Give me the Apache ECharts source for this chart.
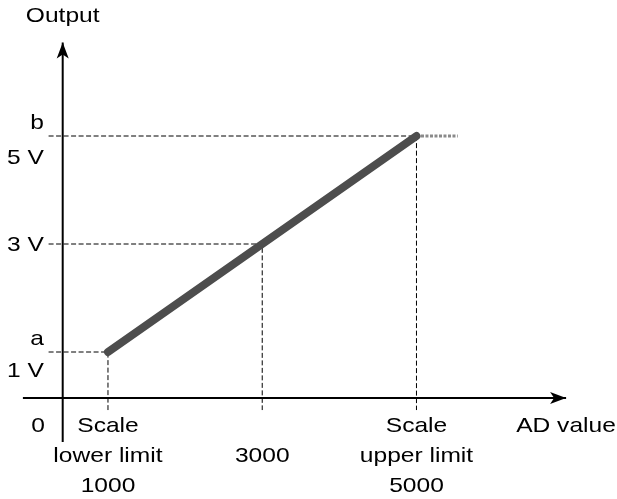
<!DOCTYPE html>
<html>
<head>
<meta charset="utf-8">
<script src="https://cdn.jsdelivr.net/npm/echarts@6/dist/echarts.min.js"></script>
<style>
html,body{margin:0;padding:0;background:#fff;}
#chart{width:617px;height:499px;}
</style>
</head>
<body>
<div id="chart"></div>
<script>
// ---- data ----
const adTicks = [1000, 3000, 5000];
const outputTicks = [1, 3, 5];
const xTickLabels = ['Scale\nlower limit\n1000', '\n3000', 'Scale\nupper limit\n5000'];
const yTickLabels = ['1 V', '3 V', '5 V'];
const yLetterLabels = ['a', '', 'b'];
const lineAD = [1000, 5000];
const lineOutput = [1, 5];
const originLabel = '0';
const xAxisName = 'AD value';
const yAxisName = 'Output';

// schematic frame (in data units)
const AXIS_X = 413;      // where the vertical axis sits
const AXIS_Y = 0.148;    // where the horizontal axis sits
const GUIDE_LEFT = 230;
const GUIDE_BOTTOM = -0.075;
const TOP_EXT = 5535;

const chart = echarts.init(document.getElementById('chart'));
const FONT = '21px "Liberation Sans", Arial, sans-serif';

const series = [];
// dashed guides: horizontal from the y side, then down past the x axis
adTicks.forEach((x, i) => {
  series.push({
    type: 'line', symbol: 'none', silent: true,
    data: [[GUIDE_LEFT, outputTicks[i]], [x, outputTicks[i]], [x, GUIDE_BOTTOM]],
    lineStyle: { color: '#000', width: 1, type: [5, 2.5] }
  });
});
// grey extension at the upper limit
series.push({
  type: 'line', symbol: 'none', silent: true,
  data: [[lineAD[1], lineOutput[1]], [TOP_EXT, lineOutput[1]]],
  lineStyle: { color: '#8a8a8a', width: 3, type: [3, 1.5] }
});
// axes with arrow heads
const arrowItem = (v, rot) => ({ value: v, symbol: 'arrow', symbolSize: [9, 16], symbolRotate: rot });
series.push({
  type: 'line', symbol: 'none', showSymbol: true, silent: true,
  data: [{ value: [AXIS_X, -0.667], symbol: 'none' }, arrowItem([AXIS_X, 6.73], 0)],
  lineStyle: { color: '#000', width: 2 }, itemStyle: { color: '#000' }
});
series.push({
  type: 'line', symbol: 'none', showSymbol: true, silent: true,
  data: [{ value: [-103, AXIS_Y], symbol: 'none' }, arrowItem([6940, AXIS_Y], -90)],
  lineStyle: { color: '#000', width: 2 }, itemStyle: { color: '#000' }
});
// main output line
series.push({
  type: 'line', symbol: 'none', silent: true,
  data: lineAD.map((x, i) => [x, lineOutput[i]]),
  lineStyle: { color: '#4d4d4d', width: 8, cap: 'round' }
});

chart.setOption({
  animation: false,
  grid: { left: 0, top: 1, width: 620, height: 486, containLabel: false },
  xAxis: { type: 'value', min: -400, max: 7600, show: false },
  yAxis: { type: 'value', min: -1.5, max: 7.5, show: false },
  series: series
});

function txt(text, x, y, align, vAlign) {
  return {
    type: 'text', x: x, y: y, scaleX: 1.17,
    style: {
      text: text, font: FONT, fill: '#000',
      textAlign: align, align: align,
      textVerticalAlign: vAlign || 'middle', verticalAlign: vAlign || 'middle',
      lineHeight: 30
    }
  };
}

const P = (x, y) => chart.convertToPixel({ gridIndex: 0 }, [x, y]);
const graphics = [];
const axisPx = P(AXIS_X, AXIS_Y);
adTicks.forEach((x, i) => {
  const p = P(x, AXIS_Y);
  graphics.push(txt(xTickLabels[i], p[0], 411, 'center', 'top'));
});
const yOffsets = [19, 1, 22];
outputTicks.forEach((y, i) => {
  const p = P(AXIS_X, y);
  graphics.push(txt(yTickLabels[i], 44, p[1] + yOffsets[i], 'right'));
  if (yLetterLabels[i]) graphics.push(txt(yLetterLabels[i], 44, p[1] - 13, 'right'));
});
graphics.push(txt(originLabel, 45, 426, 'right'));
graphics.push(txt(xAxisName, 566, 426, 'center'));
graphics.push(txt(yAxisName, axisPx[0], 16, 'center'));

chart.setOption({ graphic: { elements: graphics } });
</script>
</body>
</html>
